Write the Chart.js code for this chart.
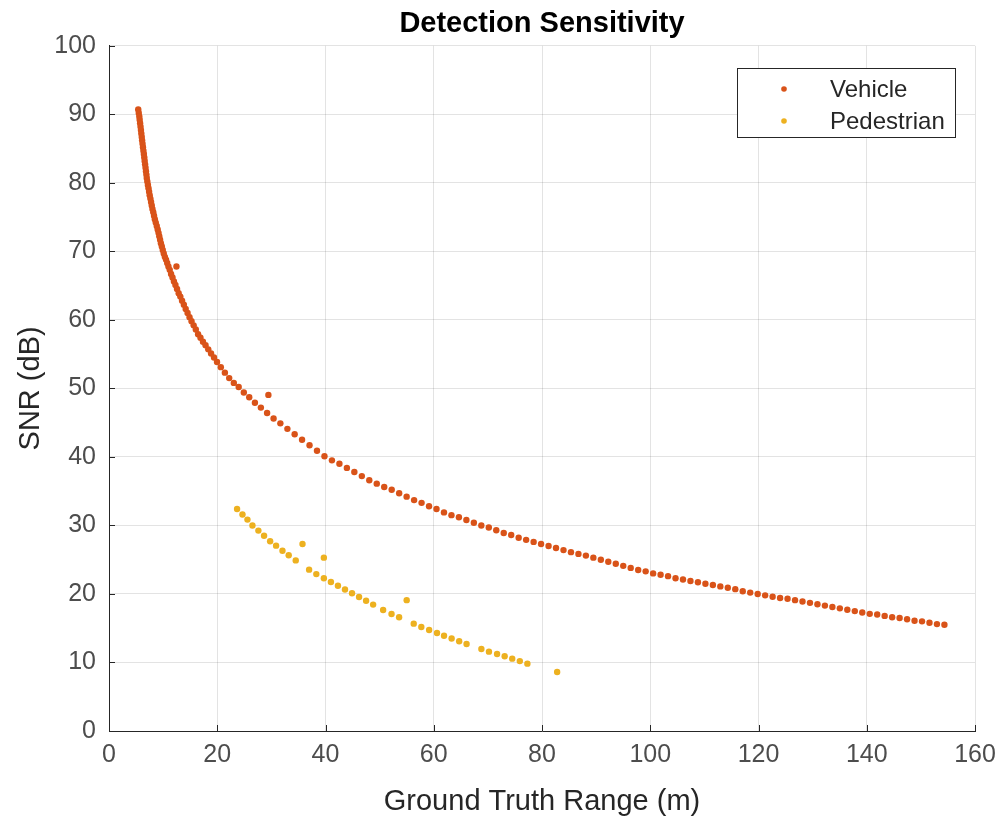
<!DOCTYPE html>
<html>
<head>
<meta charset="utf-8">
<title>Detection Sensitivity</title>
<script src="https://cdn.jsdelivr.net/npm/chart.js@4.4.1/dist/chart.umd.min.js"></script>
<style>
    html, body { margin: 0; padding: 0; background: #ffffff; }
    .chart-box { width: 1000px; height: 817px; position: relative; }
</style>
</head>
<body>
<div class="chart-box"><canvas id="snrChart"></canvas></div>
<script>
// values
const vehicleRange = [
    5.40, 5.50, 5.60, 5.67, 5.75, 5.83, 5.90, 5.97, 6.05, 6.12, 6.20, 6.28, 6.36, 6.44, 6.52, 6.59, 6.67, 6.75, 6.83, 6.91,
    6.98, 7.08, 7.19, 7.30, 7.41, 7.52, 7.65, 7.77, 7.90, 8.03, 8.18, 8.32, 8.47, 8.64, 8.82, 9.00, 9.15, 9.29, 9.44, 9.59,
    9.76, 9.93, 10.12, 10.32, 10.53, 10.75, 10.98, 11.22, 11.47, 11.73, 12.00, 12.28, 12.46, 12.57, 12.87, 13.18, 13.50, 13.83, 14.17, 14.52,
    14.88, 15.25, 15.64, 16.04, 16.46, 16.90, 17.36, 17.84, 18.34, 18.86, 19.40, 19.96, 20.66, 21.41, 22.21, 23.06, 23.96, 24.91, 25.91, 26.96,
    28.06, 29.21, 29.45, 30.41, 31.66, 32.96, 34.30, 35.67, 37.05,
    38.43, 39.81, 41.19, 42.57, 43.95, 45.33, 46.71, 48.09, 49.47, 50.85, 52.23, 53.61, 54.99, 56.37, 57.75, 59.13, 60.51, 61.89, 63.27, 64.65,
    66.03, 67.41, 68.79, 70.17, 71.55, 72.93, 74.31, 75.69, 77.07, 78.45, 79.83, 81.21, 82.59, 83.97, 85.35, 86.73, 88.11, 89.49, 90.87, 92.25,
    93.63, 95.01, 96.39, 97.77, 99.15, 100.53, 101.91, 103.29, 104.67, 106.05, 107.43, 108.81, 110.19, 111.57, 112.95, 114.33, 115.71, 117.09, 118.47, 119.85,
    121.23, 122.61, 123.99, 125.37, 126.75, 128.13, 129.51, 130.89, 132.27, 133.65, 135.03, 136.41, 137.79, 139.17, 140.55, 141.93, 143.31, 144.69, 146.07, 147.45,
    148.83, 150.21, 151.59, 152.97, 154.35
];
const vehicleSnr = [
    90.7, 90.2, 89.7, 89.2, 88.7, 88.2, 87.7, 87.2, 86.7, 86.2, 85.7, 85.2, 84.7, 84.2, 83.7, 83.2, 82.7, 82.2, 81.7, 81.2,
    80.7, 80.2, 79.7, 79.2, 78.7, 78.2, 77.7, 77.2, 76.7, 76.2, 75.7, 75.2, 74.7, 74.2, 73.7, 73.2, 72.7, 72.2, 71.7, 71.2,
    70.7, 70.2, 69.7, 69.2, 68.8, 68.3, 67.8, 67.3, 66.7, 66.2, 65.6, 65.1, 67.8, 64.5, 63.9, 63.4, 62.8, 62.2, 61.6, 61.0,
    60.4, 59.8, 59.2, 58.6, 57.9, 57.4, 56.8, 56.3, 55.7, 55.1, 54.5, 53.85, 53.1, 52.3, 51.5, 50.8, 50.2, 49.4, 48.7, 47.9,
    47.2, 46.4, 49.05, 45.6, 44.9, 44.1, 43.3, 42.5, 41.7,
    40.9, 40.1, 39.5, 39.0, 38.4, 37.8, 37.2, 36.6, 36.1, 35.6, 35.2, 34.7, 34.2, 33.7, 33.3, 32.8, 32.4, 31.9, 31.5, 31.2,
    30.8, 30.4, 30.0, 29.7, 29.3, 28.9, 28.6, 28.2, 27.9, 27.6, 27.3, 27.0, 26.7, 26.4, 26.1, 25.85, 25.6, 25.3, 25.0, 24.7,
    24.4, 24.1, 23.8, 23.5, 23.3, 23.0, 22.8, 22.6, 22.3, 22.1, 21.9, 21.7, 21.5, 21.3, 21.1, 20.9, 20.7, 20.4, 20.2, 20.0,
    19.8, 19.6, 19.4, 19.3, 19.1, 18.9, 18.7, 18.5, 18.3, 18.1, 17.9, 17.7, 17.5, 17.3, 17.1, 17.0, 16.8, 16.6, 16.5, 16.3,
    16.1, 16.0, 15.8, 15.6, 15.5
];
const pedestrianRange = [
    23.66, 24.66, 25.58, 26.5, 27.6, 28.65, 29.77, 30.87, 32.05, 33.2, 34.5, 35.75, 36.97, 38.3, 39.7, 39.7, 41.0, 42.3, 43.6, 44.9,
    46.2, 47.5, 48.8, 50.65, 52.2, 53.6, 55.0, 56.3, 57.7, 59.15, 60.6, 61.9, 63.3, 64.7, 66.06, 68.8, 70.2, 71.7, 73.1, 74.5,
    75.9, 77.3, 82.8
];
const pedestrianSnr = [
    32.4, 31.6, 30.85, 30.0, 29.25, 28.5, 27.7, 27.05, 26.3, 25.65, 24.9, 27.3, 23.55, 22.9, 22.3, 25.3, 21.75, 21.2, 20.65, 20.1,
    19.55, 19.0, 18.45, 17.66, 17.08, 16.6, 19.1, 15.67, 15.18, 14.74, 14.3, 13.9, 13.5, 13.1, 12.7, 11.97, 11.58, 11.24, 10.9, 10.56,
    10.2, 9.83, 8.6
];
const seriesNames = ['Vehicle', 'Pedestrian'];
const seriesColors = ['#D95319', '#EDB120'];
const rangeLimits = [0, 160];
const snrLimits = [0, 100];

const toPoints = (xs, ys) => xs.map((x, i) => ({ x: x, y: ys[i] }));

const axisColor = '#262626';
const fontFamily = '"Liberation Sans", Arial, Helvetica, sans-serif';

// MATLAB style ticks pointing into the plot area
const innerTicks = {
    id: 'innerTicks',
    afterDatasetsDraw(chart) {
        const { ctx, chartArea, scales } = chart;
        ctx.save();
        ctx.strokeStyle = axisColor;
        ctx.lineWidth = 1;
        ctx.beginPath();
        scales.x.ticks.forEach(t => {
            const px = Math.round(scales.x.getPixelForValue(t.value)) + 0.5;
            ctx.moveTo(px, chartArea.bottom);
            ctx.lineTo(px, chartArea.bottom - 6);
        });
        scales.y.ticks.forEach(t => {
            const py = Math.round(scales.y.getPixelForValue(t.value)) + 0.5;
            ctx.moveTo(chartArea.left, py);
            ctx.lineTo(chartArea.left + 6, py);
        });
        ctx.stroke();
        ctx.restore();
    }
};

// legend box in the top right corner of the axes
const boxLegend = {
    id: 'boxLegend',
    afterDraw(chart) {
        const { ctx } = chart;
        const left = 737.5, top = 68.5, w = 218, h = 69;
        ctx.save();
        ctx.fillStyle = '#ffffff';
        ctx.fillRect(left, top, w, h);
        ctx.strokeStyle = axisColor;
        ctx.lineWidth = 1;
        ctx.strokeRect(left, top, w, h);
        ctx.font = '24px ' + fontFamily;
        ctx.textBaseline = 'middle';
        chart.data.datasets.forEach((ds, i) => {
            const cy = 89 + i * 32;
            ctx.fillStyle = ds.backgroundColor;
            ctx.beginPath();
            ctx.arc(784, cy, 2.8, 0, Math.PI * 2);
            ctx.fill();
            ctx.fillStyle = axisColor;
            ctx.fillText(ds.label, 830, cy + 1);
        });
        ctx.restore();
    }
};

const ctx = document.getElementById('snrChart');
new Chart(ctx, {
    type: 'scatter',
    data: {
        datasets: [{
            label: seriesNames[0],
            data: toPoints(vehicleRange, vehicleSnr),
            backgroundColor: seriesColors[0],
            borderWidth: 0,
            pointRadius: 3.2,
            pointHoverRadius: 3.2
        }, {
            label: seriesNames[1],
            data: toPoints(pedestrianRange, pedestrianSnr),
            backgroundColor: seriesColors[1],
            borderWidth: 0,
            pointRadius: 3.2,
            pointHoverRadius: 3.2
        }]
    },
    options: {
        responsive: true,
        maintainAspectRatio: false,
        animation: false,
        events: [],
        layout: { padding: { left: 0, right: 25, top: 0, bottom: 0 } },
        scales: {
            x: {
                type: 'linear',
                min: rangeLimits[0],
                max: rangeLimits[1],
                afterFit: (s) => { s.height = 86; s.paddingRight = 25; s.paddingLeft = 0; },
                ticks: {
                    stepSize: 20,
                    color: '#4d4d4d',
                    padding: 9,
                    font: { family: fontFamily, size: 25 }
                },
                grid: { color: 'rgba(38,38,38,0.13)', drawTicks: false },
                border: { color: axisColor, width: 1 },
                title: {
                    display: true,
                    text: 'Ground Truth Range (m)',
                    color: axisColor,
                    font: { family: fontFamily, size: 29 },
                    padding: { top: 0, bottom: -2 }
                }
            },
            y: {
                type: 'linear',
                min: snrLimits[0],
                max: snrLimits[1],
                afterFit: (s) => { s.width = 109; },
                ticks: {
                    stepSize: 10,
                    color: '#4d4d4d',
                    padding: 13,
                    font: { family: fontFamily, size: 25 }
                },
                grid: { color: 'rgba(38,38,38,0.13)', drawTicks: false },
                border: { color: axisColor, width: 1 },
                title: {
                    display: true,
                    text: 'SNR (dB)',
                    color: axisColor,
                    font: { family: fontFamily, size: 29 },
                    padding: { top: 14, bottom: 0 }
                }
            }
        },
        plugins: {
            legend: { display: false },
            tooltip: { enabled: false },
            title: {
                display: true,
                fullSize: false,
                text: 'Detection Sensitivity',
                color: '#000000',
                font: { family: fontFamily, size: 29, weight: 'bold' },
                padding: { top: 7, bottom: 4 }
            }
        }
    },
    plugins: [innerTicks, boxLegend]
});
</script>
</body>
</html>
